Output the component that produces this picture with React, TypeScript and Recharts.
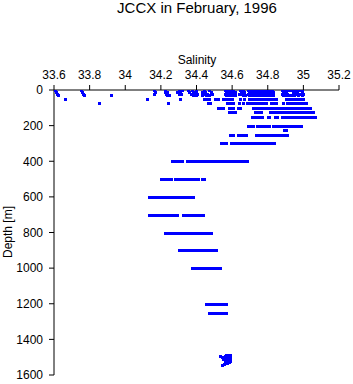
import React from "react";
import { ScatterChart, Scatter, XAxis, YAxis } from "recharts";

const FONT = '"Liberation Sans", Arial, Helvetica, sans-serif';

const salinityTicks = [33.6, 33.8, 34, 34.2, 34.4, 34.6, 34.8, 35, 35.2];
const depthTicks = [0, 200, 400, 600, 800, 1000, 1200, 1400, 1600];

// salinity readings per standard depth level
const sal0 = [33.605, 33.75, 34.16, 34.225, 34.3, 34.32, 34.355, 34.375, 34.4, 34.44, 34.47, 34.56, 34.575, 34.59, 34.605, 34.645, 34.66, 34.69, 34.705, 34.72, 34.735, 34.75, 34.765, 34.78, 34.795, 34.81, 34.825, 34.88, 34.895, 34.91, 34.925, 34.94, 34.96, 34.975, 34.99];
const sal10 = [33.61, 33.755, 34.165, 34.225, 34.235, 34.29, 34.31, 34.36, 34.38, 34.395, 34.43, 34.45, 34.48, 34.565, 34.58, 34.6, 34.615, 34.65, 34.665, 34.695, 34.71, 34.725, 34.74, 34.755, 34.77, 34.785, 34.8, 34.815, 34.83, 34.885, 34.9, 34.94, 34.95, 34.965, 34.995];
const sal20 = [33.615, 33.765, 34.16, 34.23, 34.3, 34.315, 34.37, 34.39, 34.405, 34.44, 34.46, 34.485, 34.56, 34.575, 34.59, 34.61, 34.64, 34.655, 34.69, 34.705, 34.72, 34.735, 34.75, 34.765, 34.78, 34.795, 34.81, 34.825, 34.88, 34.895, 34.91, 34.945, 34.96, 34.98, 35.0];
const sal30 = [33.62, 33.77, 33.92, 34.235, 34.245, 34.38, 34.4, 34.43, 34.455, 34.47, 34.565, 34.585, 34.6, 34.615, 34.66, 34.675, 34.695, 34.71, 34.725, 34.74, 34.755, 34.77, 34.785, 34.8, 34.815, 34.83, 34.885, 34.9, 34.915, 34.93, 34.945, 34.97, 34.99];
const sal50 = [33.66, 34.12, 34.31, 34.44, 34.455, 34.47, 34.505, 34.52, 34.55, 34.565, 34.58, 34.6, 34.645, 34.665, 34.695, 34.71, 34.725, 34.74, 34.755, 34.77, 34.785, 34.8, 34.815, 34.83, 34.845, 34.9, 34.915, 34.93, 34.945, 34.96, 34.975, 34.99, 35.0];
const sal75 = [33.855, 34.24, 34.465, 34.475, 34.572, 34.588, 34.604, 34.64, 34.66, 34.685, 34.7, 34.715, 34.73, 34.745, 34.76, 34.775, 34.79, 34.82, 34.835, 34.845, 34.888, 34.91, 34.925, 34.94, 34.955, 34.97, 34.985, 35.0, 35.015];
const sal100 = [34.52, 34.535, 34.55, 34.58, 34.595, 34.605, 34.635, 34.645, 34.715, 34.73, 34.745, 34.76, 34.775, 34.79, 34.805, 34.82, 34.835, 34.85, 34.865, 34.88, 34.895, 34.91, 34.925, 34.94, 34.955, 34.97, 34.985, 35.0, 35.015, 35.03, 35.037];
const sal125 = [34.585, 34.6, 34.615, 34.73, 34.745, 34.76, 34.81, 34.822, 34.842, 34.857, 34.872, 34.888, 34.903, 34.918, 34.933, 34.942, 34.955, 34.97, 34.985, 35.0, 35.015, 35.03, 35.045, 35.054];
const sal150 = [34.713, 34.728, 34.743, 34.756, 34.77, 34.8, 34.806, 34.842, 34.852, 34.88, 34.895, 34.91, 34.925, 34.94, 34.955, 34.97, 34.985, 35.0, 35.015, 35.03, 35.045, 35.06, 35.065];
const sal200 = [34.69, 34.705, 34.716, 34.741, 34.755, 34.767, 34.775, 34.79, 34.805, 34.83, 34.845, 34.86, 34.875, 34.89, 34.905, 34.92, 34.935, 34.95, 34.965, 34.98, 34.987];
const sal225 = [34.892, 34.905];
const sal250 = [34.59, 34.603, 34.634, 34.649, 34.664, 34.677, 34.735, 34.75, 34.765, 34.78, 34.795, 34.81, 34.825, 34.84, 34.855, 34.87, 34.885, 34.9, 34.908];
const sal300 = [34.54, 34.553, 34.565, 34.595, 34.61, 34.625, 34.638, 34.651, 34.666, 34.681, 34.696, 34.711, 34.726, 34.741, 34.756, 34.771, 34.786, 34.801, 34.816, 34.831, 34.835];
const sal400 = [34.263, 34.277, 34.292, 34.306, 34.318, 34.348, 34.362, 34.377, 34.392, 34.403, 34.41, 34.422, 34.437, 34.452, 34.467, 34.482, 34.497, 34.512, 34.527, 34.542, 34.557, 34.572, 34.59, 34.606, 34.62, 34.636, 34.651, 34.666, 34.682];
const sal500 = [34.201, 34.214, 34.229, 34.244, 34.258, 34.281, 34.295, 34.31, 34.325, 34.338, 34.353, 34.367, 34.382, 34.396, 34.407, 34.432, 34.44];
const sal600 = [34.134, 34.148, 34.163, 34.178, 34.192, 34.207, 34.222, 34.236, 34.251, 34.266, 34.28, 34.29, 34.298, 34.312, 34.327, 34.341, 34.356, 34.37, 34.379];
const sal700 = [34.135, 34.15, 34.164, 34.179, 34.193, 34.208, 34.223, 34.237, 34.252, 34.266, 34.279, 34.289, 34.325, 34.339, 34.354, 34.368, 34.383, 34.398, 34.413, 34.427, 34.439];
const sal800 = [34.224, 34.238, 34.253, 34.268, 34.282, 34.297, 34.311, 34.326, 34.341, 34.355, 34.37, 34.384, 34.399, 34.414, 34.428, 34.438, 34.452, 34.466, 34.479];
const sal900 = [34.301, 34.316, 34.33, 34.345, 34.359, 34.374, 34.389, 34.403, 34.418, 34.432, 34.447, 34.462, 34.476, 34.491, 34.504, 34.51];
const sal1000 = [34.376, 34.39, 34.405, 34.42, 34.434, 34.449, 34.463, 34.478, 34.493, 34.507, 34.521, 34.531];
const sal1200 = [34.454, 34.468, 34.483, 34.497, 34.512, 34.527, 34.541, 34.556, 34.565];
const sal1250 = [34.471, 34.486, 34.5, 34.515, 34.529, 34.544, 34.558, 34.565];

// bottom cast near 1500 m: [salinity, depth]
const deepCast: Array<[number, number]> = [
  [34.565, 1488], [34.58, 1488], [34.59, 1490], [34.53, 1496], [34.545, 1498],
  [34.56, 1496], [34.575, 1498], [34.59, 1500], [34.55, 1508], [34.565, 1510],
  [34.58, 1508], [34.59, 1513], [34.56, 1520], [34.575, 1522], [34.59, 1520],
  [34.57, 1530], [34.585, 1528], [34.545, 1542], [34.555, 1540],
];

const levels: Array<[number, number[]]> = [
  [0, sal0], [10, sal10], [20, sal20], [30, sal30], [50, sal50], [75, sal75],
  [100, sal100], [125, sal125], [150, sal150], [200, sal200], [225, sal225],
  [250, sal250], [300, sal300], [400, sal400], [500, sal500], [600, sal600],
  [700, sal700], [800, sal800], [900, sal900], [1000, sal1000],
  [1200, sal1200], [1250, sal1250],
];

const data = levels
  .flatMap(([depth, values]) => values.map((s) => ({ salinity: s, depth })))
  .concat(deepCast.map(([s, d]) => ({ salinity: s, depth: d })));

function Square(props: any) {
  const { cx, cy } = props;
  if (cx == null || cy == null) return null;
  return (
    <rect
      x={Math.round(cx) - 1}
      y={Math.round(cy) - 1}
      width={3}
      height={3}
      fill="#0000ff"
    />
  );
}

export default function App() {
  const tickStyle = { fill: "#000", fontSize: 12, fontFamily: FONT };
  return (
    <div
      style={{
        position: "absolute",
        left: 0,
        top: 0,
        width: 353,
        height: 384,
        background: "#fff",
      }}
    >
      <ScatterChart
        width={353}
        height={384}
        margin={{ top: 0, right: 14, bottom: 9, left: 0 }}
      >
        <XAxis
          dataKey="salinity"
          type="number"
          orientation="top"
          domain={[33.6, 35.2]}
          ticks={salinityTicks}
          interval={0}
          height={90}
          tickSize={5}
          tickMargin={6}
          axisLine={{ stroke: "#000" }}
          tickLine={{ stroke: "#000" }}
          tick={tickStyle}
          allowDataOverflow
        />
        <YAxis
          dataKey="depth"
          type="number"
          domain={[0, 1600]}
          reversed
          ticks={depthTicks}
          interval={0}
          width={54}
          tickSize={5}
          tickMargin={6}
          axisLine={{ stroke: "#000" }}
          tickLine={{ stroke: "#000" }}
          tick={tickStyle}
          allowDataOverflow
        />
        <Scatter data={data} shape={Square} isAnimationActive={false} />
      </ScatterChart>
      <svg
        width={353}
        height={384}
        style={{ position: "absolute", left: 0, top: 0, pointerEvents: "none" }}
      >
        <text x={197} y={13} textAnchor="middle" fontSize={15} fontFamily={FONT} fill="#000">
          JCCX in February, 1996
        </text>
        <text x={197} y={63.5} textAnchor="middle" fontSize={12} fontFamily={FONT} fill="#000">
          Salinity
        </text>
        <text
          x={11.5}
          y={232}
          textAnchor="middle"
          fontSize={12}
          fontFamily={FONT}
          fill="#000"
          transform="rotate(-90 11.5 232)"
        >
          Depth [m]
        </text>
      </svg>
    </div>
  );
}
